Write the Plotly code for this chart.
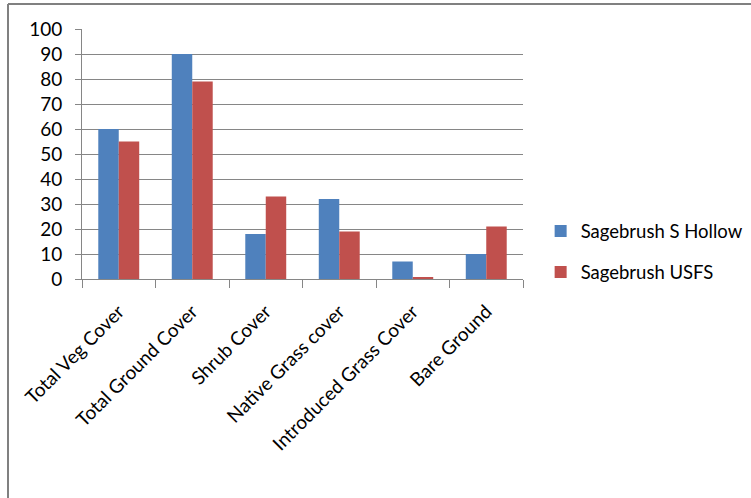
import plotly.graph_objects as go

categories = ["Total Veg Cover", "Total Ground Cover", "Shrub Cover",
              "Native Grass cover", "Introduced Grass Cover", "Bare Ground"]
s_hollow = [60, 90, 18, 32, 7, 10]
usfs = [55, 79, 33, 19, 0.5, 21]
series_names = ["Sagebrush S Hollow", "Sagebrush USFS"]
y_ticks = [0, 10, 20, 30, 40, 50, 60, 70, 80, 90, 100]

FONT = "Lato"
GRID = "#868686"
L, R, T, B = 82, 228, 29, 219
W, H = 751, 498

fig = go.Figure()
fig.add_trace(go.Bar(x=categories, y=s_hollow, name=series_names[0],
                     marker=dict(color="#4F81BD", line=dict(width=0)),
                     legendgroup="a"))
fig.add_trace(go.Bar(x=categories, y=usfs, name=series_names[1],
                     marker=dict(color="#C0504D", line=dict(width=0)),
                     legendgroup="b"))

fig.update_layout(
    width=W, height=H,
    margin=dict(l=L, r=R, t=T, b=B, autoexpand=False),
    paper_bgcolor="white", plot_bgcolor="white",
    barmode="group", bargap=0.443, bargroupgap=0,
    font=dict(family=FONT, size=19, color="black"),
    showlegend=True,
    legend=dict(x=1.04, y=0.108, xanchor="left", yanchor="middle",
                font=dict(family=FONT, size=18.5, color="black"),
                tracegroupgap=14, itemwidth=30,
                bgcolor="rgba(0,0,0,0)"),
    xaxis=dict(type="category", tickangle=-45, tickson="boundaries",
               ticks="outside", ticklen=8, tickcolor=GRID, tickwidth=1,
               showline=True, linecolor=GRID, linewidth=1,
               showgrid=False, ticklabelstandoff=13,
               tickfont=dict(family=FONT, size=19)),
    yaxis=dict(range=[0, 100], tickvals=y_ticks, ticks="outside",
               ticklen=6, tickcolor=GRID, showline=True, linecolor=GRID,
               linewidth=1, showgrid=True, gridcolor=GRID, gridwidth=1,
               zeroline=False, ticklabelstandoff=9,
               tickfont=dict(family=FONT, size=19)),
)

pw = W - L - R
ph = H - T - B
def px_x(px):
    return (px - L) / pw
def px_y(py):
    return (H - B - py) / ph

# outer frame (top and left edges)
fig.add_shape(type="line", xref="paper", yref="paper",
              x0=px_x(8), x1=px_x(760), y0=px_y(4), y1=px_y(4),
              line=dict(color="#808080", width=2))
fig.add_shape(type="line", xref="paper", yref="paper",
              x0=px_x(8), x1=px_x(8), y0=px_y(4), y1=px_y(505),
              line=dict(color="#808080", width=2))

fig.write_html("out.html",
               config={"displayModeBar": False},
               post_script="document.body.style.margin='0';document.body.style.overflow='hidden';")
